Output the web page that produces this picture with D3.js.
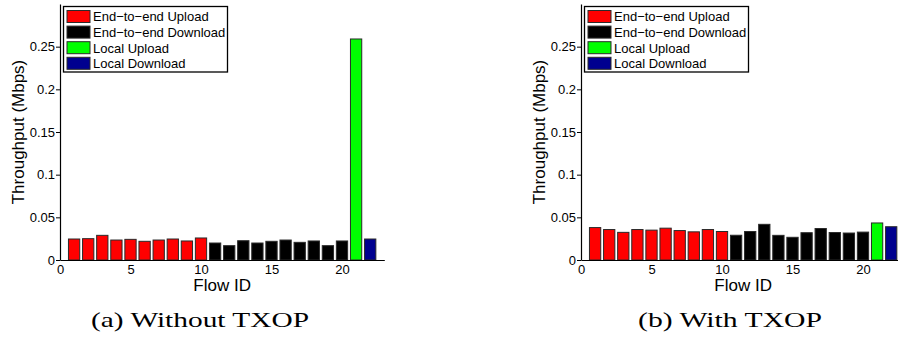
<!DOCTYPE html>
<html>
<head>
<meta charset="utf-8">
<script src="https://cdn.jsdelivr.net/npm/d3@7"></script>
<style>
  html, body { margin: 0; padding: 0; background: #fff; }
  svg { display: block; }
  text { font-family: "Liberation Sans", Arial, Helvetica, sans-serif; fill: #000; }
  .cap { font-family: "Liberation Serif", "DejaVu Serif", serif; }
</style>
</head>
<body>
<svg id="chart" width="898" height="344"></svg>
<script>
// ---------- data ----------
const flowIds = [1,2,3,4,5,6,7,8,9,10,11,12,13,14,15,16,17,18,19,20,21,22];
const flowType = ["e2eUp","e2eUp","e2eUp","e2eUp","e2eUp","e2eUp","e2eUp","e2eUp","e2eUp","e2eUp",
                  "e2eDown","e2eDown","e2eDown","e2eDown","e2eDown","e2eDown","e2eDown","e2eDown","e2eDown","e2eDown",
                  "localUp","localDown"];
const withoutTxop = [0.0246, 0.0250, 0.0289, 0.0234, 0.0242, 0.0219, 0.0234, 0.0246, 0.0223, 0.0258,
                     0.0199, 0.0168, 0.0226, 0.0199, 0.0219, 0.0234, 0.0207, 0.0223, 0.0168, 0.0223,
                     0.2590, 0.0246];
const withTxop = [0.0380, 0.0357, 0.0324, 0.0357, 0.0350, 0.0373, 0.0345, 0.0330, 0.0357, 0.0334,
                  0.0290, 0.0334, 0.0418, 0.0289, 0.0266, 0.0320, 0.0369, 0.0322, 0.0316, 0.0327,
                  0.0434, 0.0390];
const legendKeys = ["e2eUp", "e2eDown", "localUp", "localDown"];
const legendLabels = ["End\u2212to\u2212end Upload", "End\u2212to\u2212end Download", "Local Upload", "Local Download"];
const xTicks = [0, 5, 10, 15, 20];
const yTicks = [0, 0.05, 0.1, 0.15, 0.2, 0.25];
const yTickLabels = ["0", "0.05", "0.1", "0.15", "0.2", "0.25"];
const xLabel = "Flow ID";
const yLabel = "Throughput (Mbps)";
const captions = ["(a) Without TXOP", "(b) With TXOP"];

// ---------- styles ----------
const colors = { e2eUp: "#ff0000", e2eDown: "#000000", localUp: "#00ff00", localDown: "#00008f" };

const svg = d3.select("#chart");

function panel(x0, values, caption, capX, capLen) {
  const g = svg.append("g");
  const x = d3.scaleLinear().domain([0, 23]).range([x0, x0 + 324.3]);
  const y = d3.scaleLinear().domain([0, 0.3]).range([260, 4]);
  const bw = x(0.8) - x(0);

  // bars
  g.selectAll("rect.bar").data(flowIds).join("rect")
    .attr("class", "bar")
    .attr("x", (d) => x(d) - bw / 2)
    .attr("width", bw)
    .attr("y", (d, i) => y(values[i]))
    .attr("height", (d, i) => y(0) - y(values[i]))
    .attr("fill", (d, i) => colors[flowType[i]])
    .attr("stroke", "#2a2a2a")
    .attr("stroke-width", 1);

  // x axis
  const xa = g.append("g").attr("transform", "translate(0,260)")
    .call(d3.axisBottom(x).tickValues(xTicks).tickSize(0).tickPadding(5).tickFormat(d3.format("d")));
  xa.select(".domain").attr("stroke", "#000").attr("stroke-width", 1.2);
  xa.selectAll("text").attr("font-size", 13).attr("font-family", "Liberation Sans, Arial, sans-serif");

  // y axis
  const ya = g.append("g").attr("transform", `translate(${x0},0)`)
    .call(d3.axisLeft(y).tickValues(yTicks).tickSizeInner(4).tickSizeOuter(0).tickPadding(1)
      .tickFormat((d, i) => yTickLabels[i]));
  ya.select(".domain").attr("stroke", "#000").attr("stroke-width", 1.2);
  ya.selectAll(".tick line").attr("stroke", "#000");
  ya.selectAll("text").attr("font-size", 13).attr("font-family", "Liberation Sans, Arial, sans-serif");

  // axis labels
  g.append("text").attr("x", x(11.5)).attr("y", 291).attr("text-anchor", "middle")
    .attr("font-size", 17).text(xLabel);
  g.append("text").attr("transform", `translate(${x0 - 36},132) rotate(-90)`)
    .attr("text-anchor", "middle").attr("font-size", 17).text(yLabel);

  // legend
  const lg = g.append("g").attr("transform", `translate(${x0 + 3.5},6.5)`);
  lg.append("rect").attr("width", 164).attr("height", 65.5).attr("fill", "#fff")
    .attr("stroke", "#000").attr("stroke-width", 1.3);
  legendKeys.forEach((k, i) => {
    lg.append("rect").attr("x", 3.5).attr("y", 4 + i * 15.6).attr("width", 23).attr("height", 12)
      .attr("fill", colors[k]).attr("stroke", "#2a2a2a").attr("stroke-width", 1);
    lg.append("text").attr("x", 29.5).attr("y", 4 + i * 15.6 + 10.8).attr("font-size", 13)
      .text(legendLabels[i]);
  });

  // caption
  svg.append("text").attr("class", "cap").attr("x", capX).attr("y", 327)
    .attr("font-size", 22).attr("textLength", capLen).attr("lengthAdjust", "spacingAndGlyphs")
    .text(caption);
}

panel(60, withoutTxop, captions[0], 91, 218);
panel(581, withTxop, captions[1], 638, 184);
</script>
</body>
</html>
